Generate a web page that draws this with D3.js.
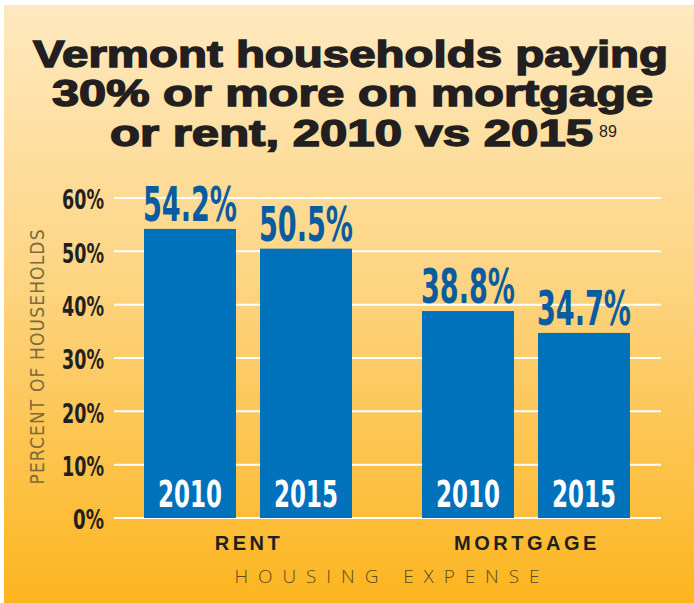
<!DOCTYPE html>
<html><head><meta charset="utf-8">
<script src="https://cdn.jsdelivr.net/npm/d3@7"></script>
<style>body{margin:0;background:#fff}svg{display:block}</style>
</head><body>
<svg id="chart" width="694" height="603"></svg>
<script>
// values
const groups = ["RENT", "MORTGAGE"];
const years = ["2010", "2015"];
const rentValues = [54.2, 50.5];
const mortgageValues = [38.8, 34.7];
const yTicks = [0, 10, 20, 30, 40, 50, 60];
const titleLines = ["Vermont households paying", "30% or more on mortgage", "or rent, 2010 vs 2015"];
const titleNote = "89";
const yTitle = "PERCENT OF HOUSEHOLDS";
const xTitle = "HOUSING EXPENSE";

const data = groups.map((g, i) => ({
  group: g,
  values: (i === 0 ? rentValues : mortgageValues).map((v, j) => ({year: years[j], value: v}))
}));

const W = 694, H = 603;
const narrow = "'Liberation Sans Narrow', 'DejaVu Sans Condensed', sans-serif";

const svg = d3.select("#chart");

// background gradient
const grad = svg.append("defs").append("linearGradient")
  .attr("id", "bg").attr("x1", 0).attr("y1", 0).attr("x2", 0).attr("y2", 1);
grad.append("stop").attr("offset", "0%").attr("stop-color", "#fee9bf");
grad.append("stop").attr("offset", "45%").attr("stop-color", "#fdd584");
grad.append("stop").attr("offset", "100%").attr("stop-color", "#fcb51f");

svg.append("rect").attr("x", 4).attr("y", 5).attr("width", W - 4).attr("height", H - 5)
  .attr("fill", "url(#bg)");

const y = d3.scaleLinear().domain([0, 60]).range([518, 198]);
const x0 = d3.scaleBand().domain(groups).range([144, 630]).paddingInner(0.2518);
const x1 = d3.scaleBand().domain(years).range([0, x0.bandwidth()]).paddingInner(0.207);

// condense a centred text to a given width with a horizontal scale
function condense(sel, width) {
  sel.each(function() {
    const t = d3.select(this);
    const cx = +t.attr("x"), cy = +t.attr("y");
    const k = width / this.getComputedTextLength();
    t.attr("x", 0).attr("y", 0).attr("transform", `translate(${cx},${cy}) scale(${k},1)`);
  });
}

// grid lines
svg.append("g").selectAll("line").data(yTicks).join("line")
  .attr("x1", 114).attr("x2", 661)
  .attr("y1", d => y(d)).attr("y2", d => y(d))
  .attr("stroke", "#fff").attr("stroke-width", 2);

// y axis labels
const yAxis = svg.append("g").attr("transform", "translate(104,0)")
  .call(d3.axisLeft(y).tickValues(yTicks).tickSize(0).tickPadding(0).tickFormat(d => d + "%"));
yAxis.select(".domain").remove();
yAxis.selectAll("text")
  .attr("font-family", narrow).attr("font-weight", "bold").attr("font-size", 26)
  .attr("fill", "#231f20").attr("dy", "0.42em")
  .attr("textLength", d => d === 0 ? 31 : 42).attr("lengthAdjust", "spacingAndGlyphs");

// bars
const g = svg.append("g").selectAll("g").data(data).join("g")
  .attr("transform", d => `translate(${x0(d.group)},0)`);

g.selectAll("rect").data(d => d.values).join("rect")
  .attr("x", d => x1(d.year)).attr("width", x1.bandwidth())
  .attr("y", d => y(d.value)).attr("height", d => y(0) - y(d.value))
  .attr("fill", "#0071bb");

const vals = g.selectAll("text.val").data(d => d.values).join("text")
  .attr("class", "val")
  .attr("x", d => x1(d.year) + x1.bandwidth() / 2)
  .attr("y", d => y(d.value) - 8)
  .attr("text-anchor", "middle")
  .attr("font-family", narrow).attr("font-weight", "bold").attr("font-size", 48)
  .attr("fill", "#0b5c9e")
  .text(d => d.value.toFixed(1) + "%");
condense(vals, 94);

const yrs = g.selectAll("text.yr").data(d => d.values).join("text")
  .attr("class", "yr")
  .attr("x", d => x1(d.year) + x1.bandwidth() / 2)
  .attr("y", 507)
  .attr("text-anchor", "middle")
  .attr("font-family", narrow).attr("font-weight", "bold").attr("font-size", 38)
  .attr("fill", "#fff")
  .text(d => d.year);
condense(yrs, 64);

// group labels
svg.append("g").selectAll("text").data(groups).join("text")
  .attr("x", d => x0(d) + x0.bandwidth() / 2 + 1)
  .attr("y", 550)
  .attr("text-anchor", "middle")
  .attr("font-family", "'Liberation Sans', Arial, sans-serif").attr("font-weight", "bold")
  .attr("font-size", 20).attr("letter-spacing", 3.5)
  .attr("fill", "#231f20")
  .text(d => d);

// axis titles
svg.append("text")
  .attr("x", 387).attr("y", 583).attr("text-anchor", "middle")
  .attr("font-family", "'Open Sans', 'Liberation Sans', sans-serif").attr("font-weight", 300)
  .attr("font-size", 19).attr("fill", "#5e4a1e")
  .attr("textLength", 305).attr("lengthAdjust", "spacing")
  .text(xTitle);

svg.append("text")
  .attr("transform", "translate(44,357) rotate(-90)")
  .attr("text-anchor", "middle")
  .attr("font-family", narrow).attr("font-size", 19)
  .attr("fill", "#7d6b3a")
  .attr("textLength", 255).attr("lengthAdjust", "spacing")
  .text(yTitle);

// title
const titleWidths = [635, 601, 483];
const titleX = [350.5, 352.5, 351.5];
const titleY = [67, 106, 146];
svg.append("g").selectAll("text").data(titleLines).join("text")
  .attr("x", (d, i) => titleX[i]).attr("y", (d, i) => titleY[i])
  .attr("text-anchor", "middle")
  .attr("font-family", "'Liberation Sans', Arial, sans-serif").attr("font-weight", "bold")
  .attr("font-size", 36).attr("fill", "#231f20")
  .attr("stroke", "#231f20").attr("stroke-width", 1.4)
  .attr("textLength", (d, i) => titleWidths[i]).attr("lengthAdjust", "spacingAndGlyphs")
  .text(d => d);

svg.append("text")
  .attr("x", 599).attr("y", 137)
  .attr("font-family", "'Liberation Sans', Arial, sans-serif")
  .attr("font-size", 16).attr("fill", "#231f20")
  .text(titleNote);
</script>
</body></html>
